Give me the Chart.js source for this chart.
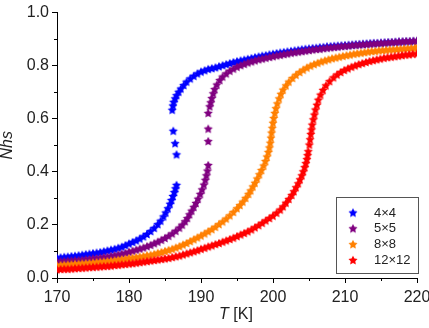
<!DOCTYPE html>
<html lang="en">
<head>
    <meta charset="UTF-8">
    <title>Nhs vs T</title>
    <script src="https://cdn.jsdelivr.net/npm/chart.js"></script>
    <style>
        html, body { margin: 0; padding: 0; background: #fff; }
        #wrap { width: 429px; height: 328px; }
    </style>
</head>
<body>
    <div id="wrap"><canvas id="myChart" width="429" height="328"></canvas></div>
    <script>
        // Datos: [T (K), Nhs]
        const labels = ['4×4', '5×5', '8×8', '12×12'];
        const colors = ['#0000ff', '#800080', '#ff8000', '#ff0000'];
        const xTicks = [170, 180, 190, 200, 210, 220];
        const yTicks = [0.0, 0.2, 0.4, 0.6, 0.8, 1.0];

        const pts4 = [
            [170,.077],[170.5,.078],[171,.080],[171.5,.081],[172,.083],[172.5,.084],[173,.086],[173.5,.088],
            [174,.090],[174.5,.092],[175,.094],[175.5,.096],[176,.098],[176.5,.101],[177,.104],[177.5,.107],
            [178,.110],[178.5,.114],[179,.118],[179.5,.124],[180,.130],[180.5,.136],[181,.142],[181.5,.149],
            [182,.157],[182.5,.166],[183,.177],[183.5,.189],[184,.203],[184.4,.216],[184.8,.232],[185.1,.247],
            [185.4,.263],[185.7,.280],[185.9,.294],[186.1,.309],[186.3,.324],[186.45,.338],[186.6,.351],
            [186.6,.466],[186.4,.508],[186.15,.555],[186.0,.634],
            [186.1,.650],[186.2,.664],[186.4,.677],[186.6,.689],[186.9,.702],[187.2,.714],[187.6,.727],
            [188,.740],[188.5,.752],[189,.762],[189.5,.771],[190,.778],[190.5,.783],[191,.788],[191.5,.791],
            [192,.794],[192.5,.798],[193,.802],[193.5,.806],[194,.810],[194.5,.814],[195,.817],[195.5,.820],
            [196,.823],[196.5,.826],[197,.829],[197.5,.832],[198,.835],[198.5,.838],[199,.840],[199.5,.843],
            [200,.845],[200.5,.848],[201,.850],[201.5,.852],[202,.854],[202.5,.856],[203,.858],[203.5,.860],
            [204,.862],[204.5,.864],[205,.865],[205.5,.867],[206,.868],[206.5,.870],[207,.871],[207.5,.873],
            [208,.874],[208.5,.875],[209,.876],[209.5,.877],[210,.878],[210.5,.879],[211,.880],[211.5,.881],
            [212,.882],[212.5,.883],[213,.884],[213.5,.885],[214,.886],[214.5,.886],[215,.887],[215.5,.888],
            [216,.889],[216.5,.889],[217,.890],[217.5,.891],[218,.891],[218.5,.892],[219,.892],[219.5,.893],
            [220,.893]
        ];

        const pts5 = [
            [170,.062],[170.5,.063],[171,.064],[171.5,.065],[172,.066],[172.5,.067],[173,.068],[173.5,.069],
            [174,.071],[174.5,.072],[175,.074],[175.5,.075],[176,.077],[176.5,.079],[177,.081],[177.5,.083],
            [178,.086],[178.5,.089],[179,.092],[179.5,.095],[180,.099],[180.5,.103],[181,.107],[181.5,.111],
            [182,.115],[182.5,.120],[183,.125],[183.5,.131],[184,.137],[184.5,.144],[185,.151],[185.5,.159],
            [186,.168],[186.5,.178],[187,.190],[187.4,.201],[187.8,.214],[188.1,.226],[188.4,.240],[188.7,.254],
            [189,.268],[189.3,.283],[189.6,.299],[189.9,.317],[190.15,.334],[190.4,.352],[190.6,.370],
            [190.75,.387],[190.9,.405],[191.0,.426],
            [191.0,.516],[191.0,.563],[191.0,.622],
            [191.2,.647],[191.35,.662],[191.5,.678],[191.7,.696],[191.9,.712],[192.2,.729],[192.6,.746],
            [193,.759],[193.5,.771],[194,.781],[194.5,.789],[195,.796],[195.5,.802],[196,.807],[196.5,.812],
            [197,.816],[197.5,.820],[198,.824],[198.5,.827],[199,.830],[199.5,.833],[200,.836],[200.5,.839],
            [201,.841],[201.5,.844],[202,.846],[202.5,.849],[203,.851],[203.5,.853],[204,.855],[204.5,.857],
            [205,.859],[205.5,.861],[206,.863],[206.5,.864],[207,.866],[207.5,.868],[208,.869],[208.5,.871],
            [209,.872],[209.5,.874],[210,.875],[210.5,.876],[211,.878],[211.5,.879],[212,.880],[212.5,.881],
            [213,.882],[213.5,.883],[214,.884],[214.5,.885],[215,.886],[215.5,.887],[216,.888],[216.5,.889],
            [217,.890],[217.5,.891],[218,.892],[218.5,.893],[219,.893],[219.5,.894],[220,.895]
        ];

        const pts8 = [
            [170,.048],[170.5,.049],[171,.050],[171.5,.051],[172,.052],[172.5,.053],[173,.054],[173.5,.055],
            [174,.056],[174.5,.057],[175,.058],[175.5,.060],[176,.061],[176.5,.062],[177,.064],[177.5,.065],
            [178,.067],[178.5,.069],[179,.071],[179.5,.073],[180,.075],[180.5,.077],[181,.079],[181.5,.081],
            [182,.083],[182.5,.086],[183,.088],[183.5,.091],[184,.095],[184.5,.098],[185,.102],[185.5,.106],
            [186,.110],[186.5,.115],[187,.120],[187.5,.126],[188,.132],[188.5,.139],[189,.146],[189.5,.153],
            [190,.160],[190.5,.168],[191,.176],[191.5,.184],[192,.193],[192.5,.203],[193,.213],[193.5,.224],
            [194,.236],[194.5,.249],[195,.263],[195.4,.275],[195.8,.288],[196.2,.302],[196.6,.317],[196.9,.330],
            [197.2,.345],[197.5,.359],[197.8,.375],[198.1,.391],[198.4,.407],[198.7,.424],[198.95,.441],
            [199.15,.458],
            [199.35,.475],[199.5,.492],[199.62,.510],[199.72,.529],[199.8,.548],[199.9,.566],[200.0,.585],
            [200.1,.603],
            [200.25,.622],[200.4,.640],[200.6,.658],[200.85,.677],[201.1,.694],[201.4,.710],[201.8,.726],
            [202.2,.740],[202.7,.754],[203.2,.766],[203.7,.776],[204.2,.785],[204.7,.793],[205.2,.800],
            [205.7,.806],[206.2,.811],[206.7,.816],[207.2,.820],[207.7,.824],[208.2,.828],[208.7,.831],
            [209.2,.834],[209.7,.837],[210.2,.840],[210.7,.842],[211.2,.845],[211.7,.847],[212.2,.849],
            [212.7,.851],[213.2,.853],[213.7,.855],[214.2,.856],[214.7,.858],[215.2,.859],[215.7,.860],
            [216.2,.861],[216.7,.862],[217.2,.863],[217.7,.864],[218.2,.865],[218.7,.866],[219.2,.867],
            [219.7,.868],[220,.868]
        ];

        const pts12 = [
            [170,.033],[170.5,.034],[171,.035],[171.5,.035],[172,.036],[172.5,.037],[173,.038],[173.5,.039],
            [174,.040],[174.5,.041],[175,.042],[175.5,.043],[176,.044],[176.5,.045],[177,.046],[177.5,.047],
            [178,.049],[178.5,.050],[179,.052],[179.5,.053],[180,.055],[180.5,.056],[181,.058],[181.5,.060],
            [182,.062],[182.5,.064],[183,.066],[183.5,.068],[184,.070],[184.5,.072],[185,.074],[185.5,.076],
            [186,.079],[186.5,.082],[187,.085],[187.5,.089],[188,.093],[188.5,.097],[189,.101],[189.5,.105],
            [190,.110],[190.5,.114],[191,.119],[191.5,.123],[192,.128],[192.5,.132],[193,.137],[193.5,.142],
            [194,.147],[194.5,.152],[195,.158],[195.5,.164],[196,.170],[196.5,.176],[197,.183],[197.5,.191],
            [198,.199],[198.5,.208],[199,.217],[199.5,.226],[200,.235],[200.5,.246],[201,.258],[201.4,.270],
            [201.8,.284],[202.2,.298],[202.6,.313],[202.9,.327],[203.2,.342],[203.5,.357],[203.75,.372],
            [204.0,.387],[204.2,.402],[204.4,.418],[204.55,.433],[204.7,.448],[204.8,.463],
            [204.9,.478],[205.05,.503],[205.15,.523],[205.25,.543],[205.35,.560],[205.45,.578],
            [205.6,.598],[205.75,.616],[205.9,.635],[206.1,.653],[206.3,.672],[206.6,.691],[206.95,.709],
            [207.35,.726],[207.85,.742],[208.4,.756],[208.9,.767],[209.4,.776],[209.9,.784],[210.4,.790],
            [210.9,.796],[211.4,.801],[211.9,.806],[212.4,.810],[212.9,.814],[213.4,.818],[213.9,.821],
            [214.4,.824],[214.9,.827],[215.4,.830],[215.9,.832],[216.4,.834],[216.9,.836],[217.4,.838],
            [217.9,.840],[218.4,.842],[218.9,.843],[219.4,.845],[220,.846]
        ];

        const series = [pts4, pts5, pts8, pts12];

        const FONT = '"Liberation Sans", Arial, sans-serif';

        // Estrella rellena de 5 puntas como imagen para pointStyle
        function starImage(color, r, inner) {
            const s = Math.ceil(r * 2) + 2;
            const c = document.createElement('canvas');
            c.width = s; c.height = s;
            const g = c.getContext('2d');
            g.fillStyle = color;
            g.beginPath();
            for (let i = 0; i < 10; i++) {
                const a = -Math.PI / 2 + i * Math.PI / 5;
                const rr = (i % 2) ? r * inner : r;
                g.lineTo(s / 2 + rr * Math.cos(a), s / 2 + 0.5 + rr * Math.sin(a));
            }
            g.closePath();
            g.fill();
            return c;
        }

        const datasets = series.map((pts, i) => ({
            label: labels[i],
            data: pts.map(p => ({ x: p[0], y: p[1] })),
            pointStyle: starImage(colors[i], 4.8, 0.5),
            pointRadius: 4,
            borderColor: colors[i],
            backgroundColor: colors[i],
            showLine: false,
            clip: 0,
            order: series.length - i
        }));

        // Marcas menores en los ejes
        const minorTicks = {
            id: 'minorTicks',
            afterDraw(chart) {
                const { ctx, chartArea, scales } = chart;
                ctx.save();
                ctx.strokeStyle = '#000';
                ctx.lineWidth = 1;
                ctx.beginPath();
                for (let v = 175; v < 220; v += 10) {
                    const x = Math.round(scales.x.getPixelForValue(v)) + 0.5;
                    ctx.moveTo(x, chartArea.bottom);
                    ctx.lineTo(x, chartArea.bottom + 3);
                }
                for (let v = 0.1; v < 1; v += 0.2) {
                    const y = Math.round(scales.y.getPixelForValue(v)) + 0.5;
                    ctx.moveTo(chartArea.left, y);
                    ctx.lineTo(chartArea.left - 3, y);
                }
                ctx.stroke();
                ctx.restore();
            }
        };

        // Titulo del eje x: T en cursiva, [K] normal
        const xTitle = {
            id: 'xTitle',
            afterDraw(chart) {
                const { ctx, chartArea } = chart;
                const cx = (chartArea.left + chartArea.right) / 2 - 1;
                const y = 315;
                ctx.save();
                ctx.fillStyle = '#222';
                ctx.textBaseline = 'middle';
                ctx.font = 'italic 16px ' + FONT;
                const w1 = ctx.measureText('T').width;
                ctx.font = '16px ' + FONT;
                const w2 = ctx.measureText(' [K]').width;
                const x0 = cx - (w1 + w2) / 2;
                ctx.font = 'italic 16px ' + FONT;
                ctx.fillText('T', x0, y);
                ctx.font = '16px ' + FONT;
                ctx.fillText(' [K]', x0 + w1, y);
                ctx.restore();
            }
        };

        // Leyenda dentro del area del grafico, abajo a la derecha
        const boxLegend = {
            id: 'boxLegend',
            afterDraw(chart) {
                const { ctx, chartArea } = chart;
                const right = chartArea.right + 0.5;
                const left = right - 81.5;
                const bottom = chartArea.bottom - 5;
                const top = bottom - 76;
                ctx.save();
                ctx.fillStyle = '#fff';
                ctx.fillRect(left, top, right - left, bottom - top);
                ctx.strokeStyle = '#555';
                ctx.lineWidth = 1;
                ctx.strokeRect(Math.round(left) + 0.5, Math.round(top) + 0.5, Math.round(right - left), Math.round(bottom - top));
                ctx.font = '13px ' + FONT;
                ctx.fillStyle = '#222';
                ctx.textBaseline = 'middle';
                chart.data.datasets.forEach((ds, i) => {
                    const y = top + 15.5 + i * 15.8;
                    const img = ds.pointStyle;
                    ctx.drawImage(img, left + 17 - img.width / 2, y - img.height / 2);
                    ctx.fillText(ds.label, left + 38, y + 0.5);
                });
                ctx.restore();
            }
        };

        const ctx = document.getElementById('myChart').getContext('2d');
        new Chart(ctx, {
            type: 'scatter',
            data: { datasets: datasets },
            plugins: [minorTicks, xTitle, boxLegend],
            options: {
                responsive: false,
                animation: false,
                events: [],
                layout: { padding: { top: 11, right: 12, left: 0, bottom: 0 } },
                plugins: {
                    legend: { display: false },
                    tooltip: { enabled: false }
                },
                scales: {
                    x: {
                        type: 'linear',
                        min: 170,
                        max: 220,
                        afterBuildTicks: (s) => { s.ticks = xTicks.map(v => ({ value: v })); },
                        afterFit: (s) => { s.height = 50; s.paddingRight = 0; },
                        ticks: {
                            color: '#222',
                            font: { family: FONT, size: 16 },
                            padding: 5,
                            maxRotation: 0,
                            callback: (v) => String(v)
                        },
                        grid: { drawOnChartArea: false, drawTicks: true, tickLength: 5, tickColor: '#000' },
                        border: { display: true, color: '#000', width: 1 }
                    },
                    y: {
                        type: 'linear',
                        min: 0,
                        max: 1,
                        afterBuildTicks: (s) => { s.ticks = yTicks.map(v => ({ value: v })); },
                        afterFit: (s) => { s.width = 57; },
                        ticks: {
                            color: '#222',
                            font: { family: FONT, size: 16 },
                            padding: 3,
                            callback: (v) => Number(v).toFixed(1)
                        },
                        title: {
                            display: true,
                            text: 'Nhs',
                            color: '#222',
                            font: { family: FONT, size: 16, style: 'italic', lineHeight: 1 },
                            padding: { top: 0, bottom: 0 }
                        },
                        grid: { drawOnChartArea: false, drawTicks: true, tickLength: 5, tickColor: '#000' },
                        border: { display: true, color: '#000', width: 1 }
                    }
                }
            }
        });
    </script>
</body>
</html>
